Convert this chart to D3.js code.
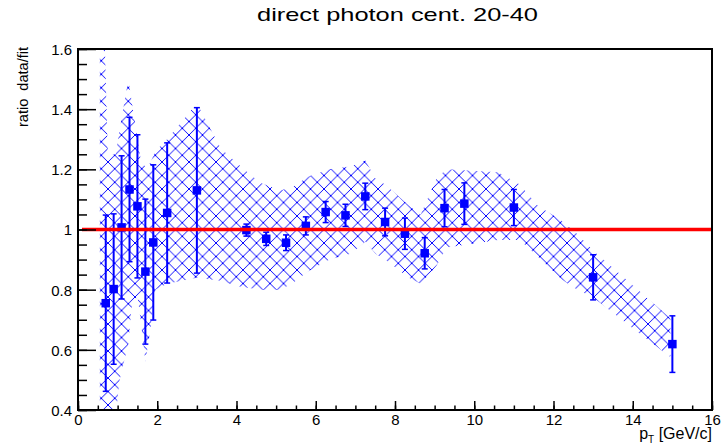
<!DOCTYPE html>
<html>
<head>
<meta charset="utf-8">
<script src="https://cdn.jsdelivr.net/npm/d3@7/dist/d3.min.js"></script>
<style>
  html, body { margin: 0; padding: 0; background: #fff; }
  svg { display: block; }
  text { font-family: "Liberation Sans", Arial, Helvetica, sans-serif; fill: #000; }
</style>
</head>
<body>
<svg id="chart" width="721" height="445"></svg>
<script>
// Direct photon, centrality 20-40: measured yield divided by the fit.
const ptX     = [0.7, 0.9, 1.1, 1.3, 1.5, 1.7, 1.9, 2.25, 3.0, 4.25, 4.75, 5.25, 5.75, 6.25, 6.75, 7.25, 7.75, 8.25, 8.75, 9.25, 9.75, 11.0, 13.0, 15.0];
const ratio   = [0.755, 0.802, 1.007, 1.133, 1.077, 0.860, 0.957, 1.055, 1.130, 0.998, 0.969, 0.956, 1.012, 1.058, 1.047, 1.110, 1.025, 0.986, 0.921, 1.071, 1.086, 1.073, 0.841, 0.619];
const statErr = [0.293, 0.250, 0.238, 0.240, 0.238, 0.241, 0.258, 0.233, 0.275, 0.020, 0.022, 0.026, 0.030, 0.035, 0.037, 0.044, 0.046, 0.052, 0.052, 0.062, 0.069, 0.060, 0.075, 0.094];

// Systematic uncertainty band (hatched area): x, upper edge, lower edge.
const bandX  = [0.55, 0.65, 0.75, 0.95, 1.05, 1.27, 1.35, 1.50, 1.60, 1.70, 1.82, 1.95, 2.25, 3.00, 3.60, 4.10, 4.60, 5.10, 5.40, 5.80, 6.35, 6.90, 7.25, 7.50, 7.75, 8.35, 8.65, 9.05, 9.30, 10.60, 11.15, 11.60, 12.20, 12.60, 13.00, 14.00, 14.95];
const bandHi = [1.75, 1.75, 1.25, 1.25, 1.33, 1.50, 1.43, 1.30, 1.22, 1.21, 1.22, 1.26, 1.30, 1.42, 1.27, 1.21, 1.155, 1.13, 1.14, 1.175, 1.20, 1.21, 1.23, 1.17, 1.15, 1.08, 1.05, 1.17, 1.20, 1.19, 1.15, 1.08, 1.03, 0.985, 0.93, 0.815, 0.705];
const bandLo = [0.30, 0.30, 0.30, 0.38, 0.50, 0.62, 0.74, 0.78, 0.68, 0.56, 0.66, 0.80, 0.82, 0.84, 0.83, 0.81, 0.80, 0.80, 0.82, 0.86, 0.90, 0.92, 0.96, 0.92, 0.90, 0.84, 0.82, 0.88, 0.94, 0.965, 0.965, 0.91, 0.835, 0.80, 0.775, 0.672, 0.576];

// Reference line at ratio = 1
const unityX = [0.1, 16];
const unityY = [1, 1];

// Axis ticks
const xTickValues = [0, 2, 4, 6, 8, 10, 12, 14, 16];
const xTickLabels = ["0", "2", "4", "6", "8", "10", "12", "14", "16"];
const yTickValues = [0.4, 0.6, 0.8, 1.0, 1.2, 1.4, 1.6];
const yTickLabels = ["0.4", "0.6", "0.8", "1", "1.2", "1.4", "1.6"];

const titleText = "direct photon cent. 20-40";
const yTitle = "ratio  data/fit";

const svg = d3.select("#chart");
const frameL = 78, frameR = 712, frameT = 49, frameB = 410;

const x = d3.scaleLinear().domain([0, 16]).range([frameL, frameR]);
const y = d3.scaleLinear().domain([0.4, 1.6]).range([frameB, frameT]);

svg.append("rect").attr("width", 721).attr("height", 445).attr("fill", "#fff");

const defs = svg.append("defs");
defs.append("clipPath").attr("id", "frameClip")
  .append("rect").attr("x", frameL).attr("y", frameT)
  .attr("width", frameR - frameL).attr("height", frameB - frameT);

// Cross-hatch fill
const hs = 13.5;
const pat = defs.append("pattern").attr("id", "crossHatch")
  .attr("patternUnits", "userSpaceOnUse")
  .attr("width", hs).attr("height", hs);
pat.append("path")
  .attr("d", `M0,0L${hs},${hs}M${hs},0L0,${hs}`)
  .attr("stroke", "#0000ff").attr("stroke-width", 1).attr("fill", "none")
  .attr("shape-rendering", "crispEdges");

const plot = svg.append("g").attr("clip-path", "url(#frameClip)");

// Band
const bandPts = bandX.map((v, i) => ({ x: v, hi: bandHi[i], lo: bandLo[i] }));
const bandArea = d3.area().x(d => x(d.x)).y0(d => y(d.lo)).y1(d => y(d.hi));
plot.append("path").datum(bandPts)
  .attr("d", bandArea)
  .attr("fill", "url(#crossHatch)");

// Data points with statistical errors
const pts = ptX.map((v, i) => ({ x: v, y: ratio[i], e: statErr[i] }));
const blue = "#0000ff";
const pg = plot.append("g");
pg.selectAll("line.err").data(pts).join("line")
  .attr("class", "err")
  .attr("x1", d => x(d.x)).attr("x2", d => x(d.x))
  .attr("y1", d => y(d.y - d.e)).attr("y2", d => y(d.y + d.e))
  .attr("stroke", blue).attr("stroke-width", 2);
const capW = 3;
pg.selectAll("line.capHi").data(pts).join("line")
  .attr("class", "capHi")
  .attr("x1", d => x(d.x) - capW).attr("x2", d => x(d.x) + capW)
  .attr("y1", d => y(d.y + d.e)).attr("y2", d => y(d.y + d.e))
  .attr("stroke", blue).attr("stroke-width", 1.5);
pg.selectAll("line.capLo").data(pts).join("line")
  .attr("class", "capLo")
  .attr("x1", d => x(d.x) - capW).attr("x2", d => x(d.x) + capW)
  .attr("y1", d => y(d.y - d.e)).attr("y2", d => y(d.y - d.e))
  .attr("stroke", blue).attr("stroke-width", 1.5);
const ms = 8.5;
pg.selectAll("rect.mk").data(pts).join("rect")
  .attr("class", "mk")
  .attr("x", d => x(d.x) - ms / 2).attr("y", d => y(d.y) - ms / 2)
  .attr("width", ms).attr("height", ms)
  .attr("fill", blue);

// Unity line
plot.append("line")
  .attr("x1", x(unityX[0])).attr("x2", x(unityX[1]))
  .attr("y1", y(unityY[0])).attr("y2", y(unityY[1]))
  .attr("stroke", "#ff0000").attr("stroke-width", 3.5);

// Axes (ticks point into the frame)
const yAxis = d3.axisLeft(y).tickValues(yTickValues)
  .tickFormat((d, i) => yTickLabels[i]).tickSize(-18).tickPadding(6);
const yMinor = d3.axisLeft(y).tickValues(d3.range(0, 25).map(k => 0.4 + k * 0.05))
  .tickFormat("").tickSize(-9);
const xAxis = d3.axisBottom(x).tickValues(xTickValues)
  .tickFormat((d, i) => xTickLabels[i]).tickSize(-9).tickPadding(4);
const xMinor = d3.axisBottom(x).tickValues(d3.range(0, 33).map(k => k * 0.5))
  .tickFormat("").tickSize(-4.5);

function styleAxis(g) {
  g.select(".domain").remove();
  g.selectAll(".tick line").attr("stroke", "#000").attr("stroke-width", 1.5);
  g.selectAll(".tick text").attr("fill", "#000")
    .style("font-family", '"Liberation Sans", Arial, Helvetica, sans-serif')
    .style("font-size", "15px");
}
svg.append("g").attr("transform", `translate(${frameL},0)`).call(yMinor).call(styleAxis);
svg.append("g").attr("transform", `translate(${frameL},0)`).call(yAxis).call(styleAxis)
  .selectAll(".tick text").attr("dy", "0.36em");
svg.append("g").attr("transform", `translate(0,${frameB})`).call(xMinor).call(styleAxis);
svg.append("g").attr("transform", `translate(0,${frameB})`).call(xAxis).call(styleAxis)
  .selectAll(".tick text").attr("dy", "0.72em");

// Frame
svg.append("rect")
  .attr("x", frameL).attr("y", frameT)
  .attr("width", frameR - frameL).attr("height", frameB - frameT)
  .attr("fill", "none").attr("stroke", "#000").attr("stroke-width", 2);

// Title
svg.append("text")
  .attr("x", 257).attr("y", 21)
  .attr("textLength", 281).attr("lengthAdjust", "spacingAndGlyphs")
  .style("font-size", "19px")
  .text(titleText);

// Y axis title
svg.append("text")
  .attr("transform", "translate(28,127) rotate(-90)")
  .attr("textLength", 80).attr("lengthAdjust", "spacingAndGlyphs")
  .style("font-size", "14px")
  .style("white-space", "pre")
  .text(yTitle);

// X axis title: p_T [GeV/c]
const xt = svg.append("text")
  .attr("x", 712).attr("y", 439)
  .attr("text-anchor", "end")
  .style("font-size", "16px");
xt.append("tspan").text("p");
xt.append("tspan").attr("dy", 4).style("font-size", "10px").text("T");
xt.append("tspan").attr("dy", -4).style("white-space", "pre").text(" [GeV/c]");
</script>
</body>
</html>
